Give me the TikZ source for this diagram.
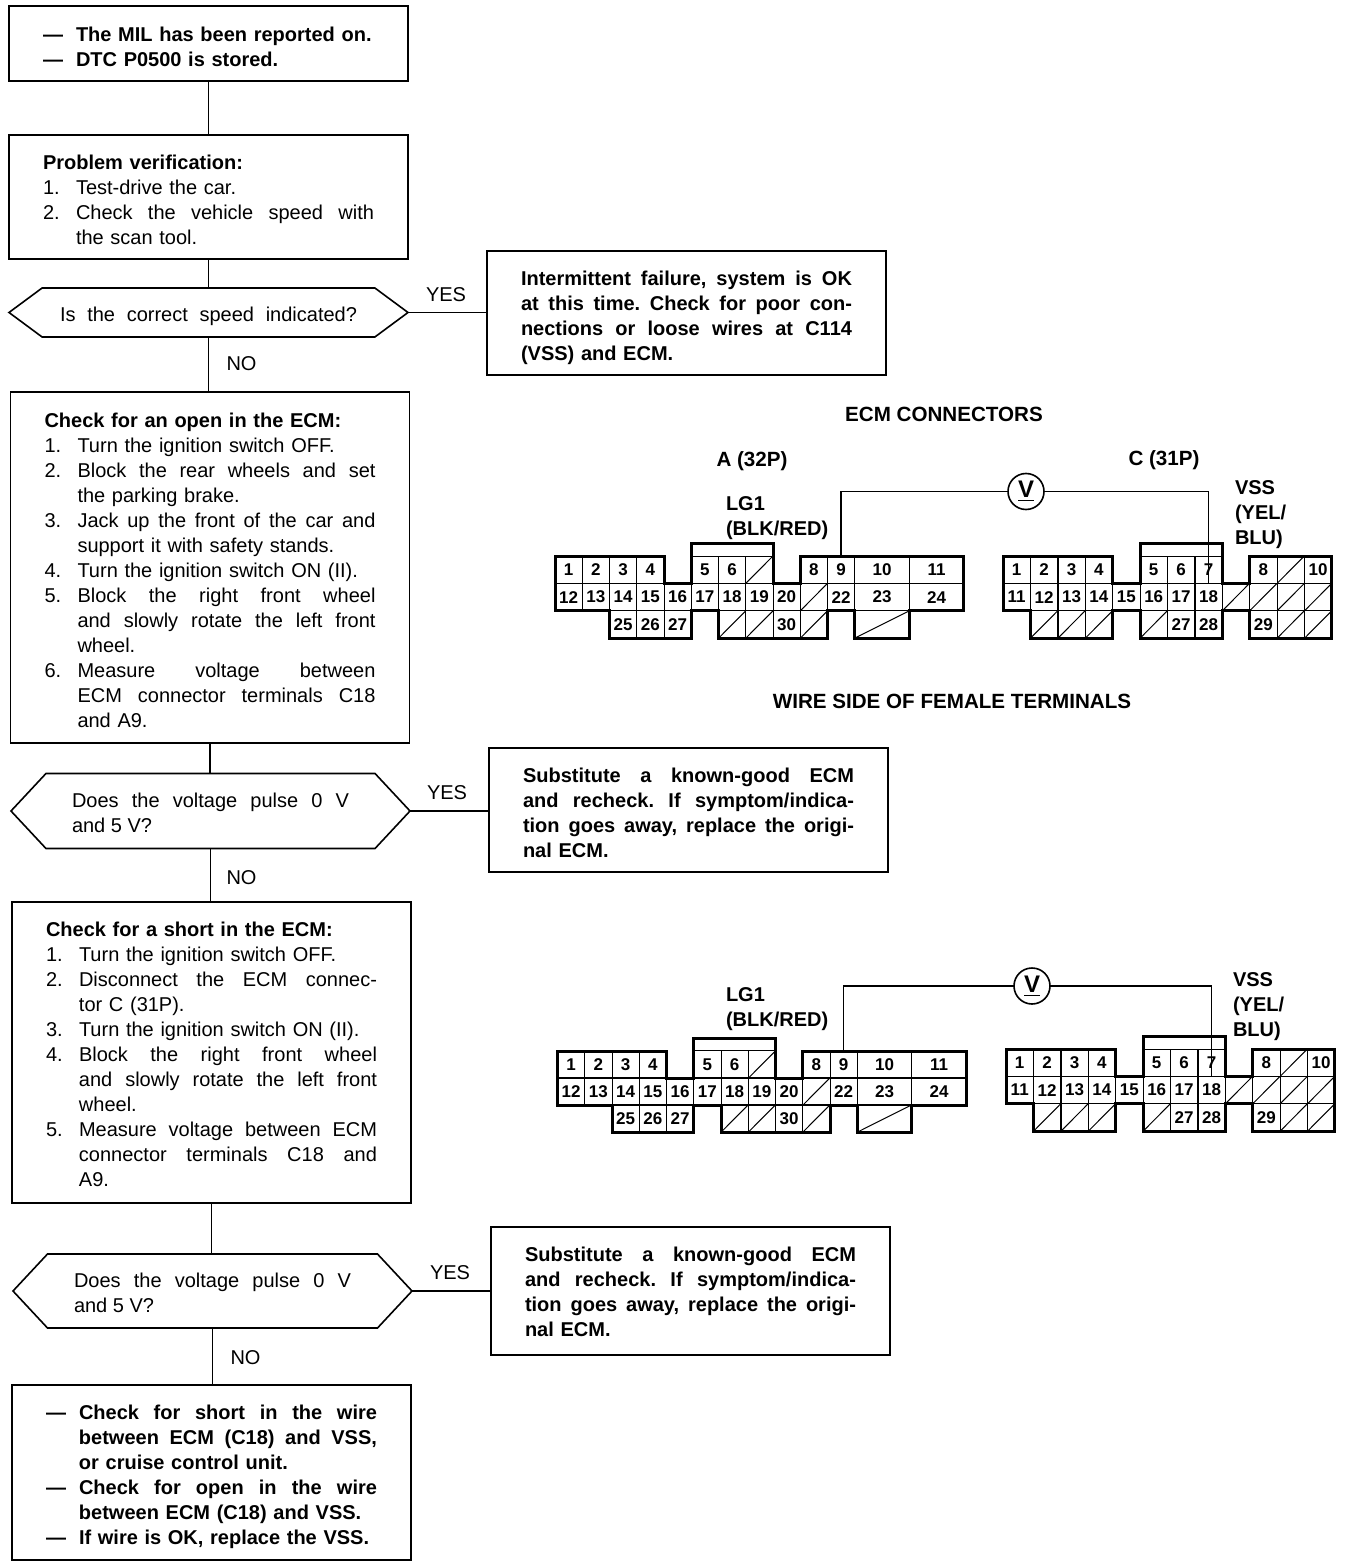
\documentclass[tikz,border=0pt]{standalone}
\usepackage{fontspec}
\setmainfont{Liberation Sans}
\usetikzlibrary{positioning,shapes.symbols}

\newcommand{\spread}[2]{\makebox[#1][s]{\spaceskip=0pt\xspaceskip=0pt\frenchspacing #2}}
\newcommand{\numline}[2]{\makebox[16.5pt][l]{#1}#2}
\newcommand{\numfill}[2]{\makebox[16.5pt][l]{#1}\spread{149pt}{#2}}
\newcommand{\hang}[1]{\hspace*{16.5pt}#1}
\newcommand{\hangfill}[1]{\hspace*{16.5pt}\spread{149pt}{#1}}
\newcommand{\fullfill}[1]{\spread{165.5pt}{#1}}

\tikzset{
  flowbox/.style={draw, line width=.8pt, anchor=north west, align=left,
    text width=165.5pt, inner xsep=17pt, inner ysep=0pt, outer sep=0pt,
    font=\fontsize{10}{12.5}\selectfont, minimum height=#1},
  boldbox/.style={flowbox=#1, font=\fontsize{10}{12.5}\selectfont\bfseries},
  lift/.style={execute at begin node={\rule{0pt}{#1}}},
  decide/.style={draw, line width=.8pt, signal, signal to=west and east,
    signal pointer angle=#1, minimum width=199.5pt, inner sep=0pt, outer sep=0pt, align=left,
    font=\fontsize{10}{12.5}\selectfont},
  word/.style={inner sep=0pt, outer sep=0pt, font=\fontsize{10}{12.5}\selectfont},
  tag/.style={word, align=left, anchor=west, font=\fontsize{10}{12.5}\selectfont\bfseries},
  headline/.style={tag, anchor=center, font=\fontsize{10.3}{12.5}\selectfont\bfseries},
  pin/.style={draw, line width=.4pt, inner sep=0pt, outer sep=0pt, minimum width=13.6pt,
    minimum height=13.7pt, font=\fontsize{8.5}{10}\selectfont\bfseries},
  widepin/.style={pin, minimum width=27.3pt},
  deadpin/.style={pin, path picture={\draw[line width=.5pt] (path picture bounding box.south west)
    -- (path picture bounding box.north east);}},
  shell/.style={line width=1.5pt, line join=miter},
  wire/.style={line width=.8pt},
  meter/.style={draw, circle, line width=.8pt, minimum size=18pt, inner sep=0pt, outer sep=0pt,
    font=\fontsize{12}{12}\selectfont\bfseries},
}

\newcommand{\ecmA}{
  \foreach \col/\row/\lab in {0/0/1,1/0/2,2/0/3,3/0/4,5/0/5,6/0/6,9/0/8,10/0/9,
    0/1/12,1/1/13,2/1/14,3/1/15,4/1/16,5/1/17,6/1/18,7/1/19,8/1/20,10/1/22,
    2/2/25,3/2/26,4/2/27,8/2/30}
    \node[pin, name=\lab] at (\col+.5,\row+.5) {\lab};
  \foreach \col/\row in {7/0,9/1,6/2,7/2,9/2}
    \node[deadpin, name=dead\col\row] at (\col+.5,\row+.5) {};
  \foreach \col/\row/\lab in {12/0/10,14/0/11,12/1/23,14/1/24}
    \node[widepin, name=\lab] at (\col,\row+.5) {\lab};
  \node[deadpin, minimum width=27.3pt, name=deadwide] at (12,2.5) {};
  \draw[shell] (0,0) -- (4,0) -- (4,1) -- (5,1) -- (5,-.45) -- (8,-.45) -- (8,1) -- (9,1)
    -- (9,0) -- (15,0) -- (15,2) -- (13,2) -- (13,3) -- (11,3) -- (11,2) -- (10,2) -- (10,3)
    -- (6,3) -- (6,2) -- (5,2) -- (5,3) -- (2,3) -- (2,2) -- (0,2) -- cycle;
}

\newcommand{\ecmC}{
  \foreach \col/\row/\lab in {0/0/1,1/0/2,2/0/3,3/0/4,5/0/5,6/0/6,7/0/7,9/0/8,11/0/10,
    0/1/11,1/1/12,2/1/13,3/1/14,4/1/15,5/1/16,6/1/17,7/1/18,
    6/2/27,7/2/28,9/2/29}
    \node[pin, name=\lab] at (\col+.5,\row+.5) {\lab};
  \foreach \col/\row in {10/0,8/1,9/1,10/1,11/1,1/2,2/2,3/2,5/2,10/2,11/2}
    \node[deadpin, name=dead\col\row] at (\col+.5,\row+.5) {};
  \draw[shell] (0,0) -- (4,0) -- (4,1) -- (5,1) -- (5,-.45) -- (8,-.45) -- (8,1) -- (9,1)
    -- (9,0) -- (12,0) -- (12,3) -- (9,3) -- (9,2) -- (8,2) -- (8,3) -- (5,3) -- (5,2)
    -- (4,2) -- (4,3) -- (1,3) -- (1,2) -- (0,2) -- cycle;
}

\begin{document}
\begin{tikzpicture}[x=.5pt,y=-.5pt]
  \useasboundingbox (0,0) rectangle (1344,1566);

  \node[boldbox=37.5pt, lift=10.5pt] (start) at (9,6) {%
    \numline{---}{The MIL has been reported on.}\\
    \numline{---}{DTC P0500 is stored.}};
  \node[flowbox=62pt, lift=10.5pt] (verify) at (9,135) {%
    \textbf{Problem verification:}\\
    \numline{1.}{Test-drive the car.}\\
    \numfill{2.}{Check the vehicle speed with}\\
    \hang{the scan tool.}};
  \node[decide=73, minimum height=24.5pt] (speed) at (208.5,312.5) {\rule{0pt}{11.5pt}\spread{148.5pt}{Is the correct speed indicated?}};
  \node[boldbox=62pt, lift=12.5pt] (okbox) at (487,251) {%
    \fullfill{Intermittent failure, system is OK}\\
    \fullfill{at this time. Check for poor con-}\\
    \fullfill{nections or loose wires at C114}\\
    (VSS) and ECM.};
  \node[flowbox=175.5pt, lift=10.5pt] (openbox) at (10.5,392) {%
    \textbf{Check for an open in the ECM:}\\
    \numline{1.}{Turn the ignition switch OFF.}\\
    \numfill{2.}{Block the rear wheels and set}\\
    \hang{the parking brake.}\\
    \numfill{3.}{Jack up the front of the car and}\\
    \hang{support it with safety stands.}\\
    \numline{4.}{Turn the ignition switch ON (II).}\\
    \numfill{5.}{Block the right front wheel}\\
    \hangfill{and slowly rotate the left front}\\
    \hang{wheel.}\\
    \numfill{6.}{Measure voltage between}\\
    \hangfill{ECM connector terminals C18}\\
    \hang{and A9.}};
  \node[decide=94, minimum height=37.5pt] (pulseA) at (210.5,811) {
    \rule{0pt}{9.5pt}\spread{138.5pt}{Does the voltage pulse 0 V}\\and 5 V?};
  \node[boldbox=62pt, lift=10.5pt] (subA) at (489,748) {%
    \fullfill{Substitute a known-good ECM}\\
    \fullfill{and recheck. If symptom/indica-}\\
    \fullfill{tion goes away, replace the origi-}\\
    nal ECM.};
  \node[flowbox=150.5pt, lift=9.5pt] (shortbox) at (12,902) {%
    \textbf{Check for a short in the ECM:}\\
    \numline{1.}{Turn the ignition switch OFF.}\\
    \numfill{2.}{Disconnect the ECM connec-}\\
    \hang{tor C (31P).}\\
    \numline{3.}{Turn the ignition switch ON (II).}\\
    \numfill{4.}{Block the right front wheel}\\
    \hangfill{and slowly rotate the left front}\\
    \hang{wheel.}\\
    \numfill{5.}{Measure voltage between ECM}\\
    \hangfill{connector terminals C18 and}\\
    \hang{A9.}};
  \node[decide=94, minimum height=37pt] (pulseB) at (212.5,1291) {
    \rule{0pt}{9.5pt}\spread{138.5pt}{Does the voltage pulse 0 V}\\and 5 V?};
  \node[boldbox=64pt, lift=8.5pt] (subB) at (491,1227) {%
    \fullfill{Substitute a known-good ECM}\\
    \fullfill{and recheck. If symptom/indica-}\\
    \fullfill{tion goes away, replace the origi-}\\
    nal ECM.};
  \node[boldbox=87.5pt, lift=11.5pt] (finish) at (12,1385) {%
    \numfill{---}{Check for short in the wire}\\
    \hangfill{between ECM (C18) and VSS,}\\
    \hang{or cruise control unit.}\\
    \numfill{---}{Check for open in the wire}\\
    \hang{between ECM (C18) and VSS.}\\
    \numline{---}{If wire is OK, replace the VSS.}};

  \node[word, above right=5.5pt and 9pt of speed.east] (yesA) {YES};
  \node[word, above right=5.5pt and 8.5pt of pulseA.east] (yesB) {YES};
  \node[word, above right=5.5pt and 9pt of pulseB.east] (yesC) {YES};
  \node[word, below right=10pt and 9pt of speed.south] (noA) {NO};
  \node[word, below right=11pt and 8pt of pulseA.south] (noB) {NO};
  \node[word, below right=11.5pt and 9pt of pulseB.south] (noC) {NO};

  \draw[wire] (start.south) -- (start.south |- verify.north);
  \draw[wire] (verify.south) -- (verify.south |- speed.north);
  \draw[wire] (speed.south) -- (speed.south |- openbox.north);
  \draw[wire] (speed.east) -- (speed.east -| okbox.west);
  \draw[wire] (openbox.south) -- (openbox.south |- pulseA.north);
  \draw[wire] (pulseA.south) -- (pulseA.south |- shortbox.north);
  \draw[wire] (pulseA.east) -- (pulseA.east -| subA.west);
  \draw[wire] (shortbox.south) -- (shortbox.south |- pulseB.north);
  \draw[wire] (pulseB.south) -- (pulseB.south |- finish.north);
  \draw[wire] (pulseB.east) -- (pulseB.east -| subB.west);

  \node[headline] (title) at (944,414) {ECM CONNECTORS};
  \node[headline] (nameA) at (752,461) {A (32P)};
  \node[headline] (nameC) at (1164,460) {C (31P)};
  \node[headline] (side) at (952,701) {WIRE SIDE OF FEMALE TERMINALS};
  \node[tag] (lgA) at (726,518.5) {LG1\\(BLK/RED)};
  \node[tag] (vssA) at (1235,515) {VSS\\(YEL/\\BLU)};
  \node[tag] (lgB) at (726,1009.5) {LG1\\(BLK/RED)};
  \node[tag] (vssB) at (1233,1007) {VSS\\(YEL/\\BLU)};

  \begin{scope}[shift={(555,556)}, x=13.625pt, y=-13.7pt, name prefix=upA-]
    \ecmA
  \end{scope}
  \begin{scope}[shift={(1003,556)}, x=13.7pt, y=-13.7pt, name prefix=upC-]
    \ecmC
  \end{scope}
  \begin{scope}[shift={(557.5,1051)}, x=13.625pt, y=-13.5pt, name prefix=lowA-]
    \ecmA
  \end{scope}
  \begin{scope}[shift={(1006,1049)}, x=13.7pt, y=-13.7pt, name prefix=lowC-]
    \ecmC
  \end{scope}

  \node[meter] (vA) at (1026,491.5) {\underline{V}};
  \node[meter] (vB) at (1032,986) {\underline{V}};
  \draw[wire] (upA-9.north) |- (vA.west);
  \draw[wire] (vA.east) -| (upC-7.south);
  \draw[wire] (lowA-9.north) |- (vB.west);
  \draw[wire] (vB.east) -| (lowC-7.south);
\end{tikzpicture}
\end{document}
